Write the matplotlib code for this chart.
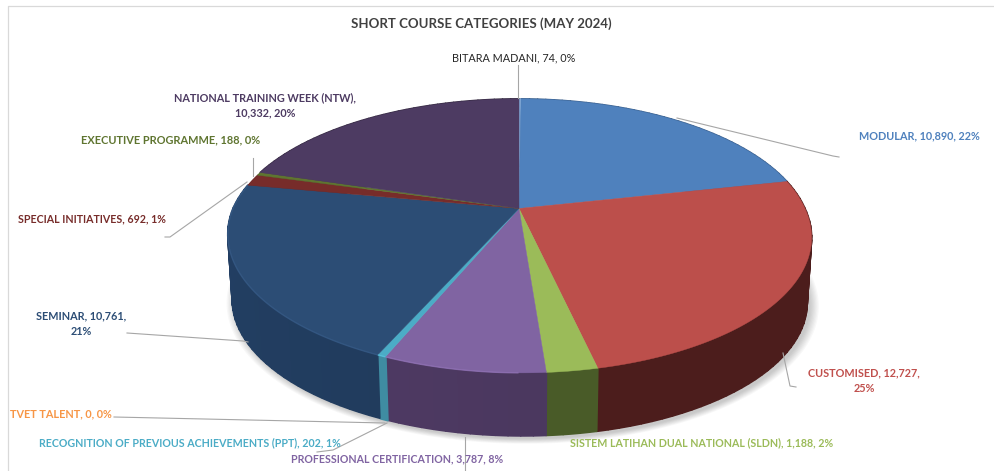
import numpy as np
import matplotlib
matplotlib.use("Agg")
import matplotlib.pyplot as plt
from matplotlib.collections import PolyCollection
from matplotlib.colors import to_rgb

categories = ["BITARA MADANI", "MODULAR", "CUSTOMISED", "SISTEM LATIHAN DUAL NATIONAL (SLDN)",
              "PROFESSIONAL CERTIFICATION", "RECOGNITION OF PREVIOUS ACHIEVEMENTS (PPT)", "TVET TALENT",
              "SEMINAR", "SPECIAL INITIATIVES", "EXECUTIVE PROGRAMME", "NATIONAL TRAINING WEEK (NTW)"]
values = [74, 10890, 12727, 1188, 3787, 202, 0, 10761, 692, 188, 10332]
top_colors = ["#7FA6D3", "#4F81BD", "#BC4F4B", "#9BBB59", "#8064A2", "#4BACC6", "#F79646",
              "#2C4D75", "#772C2A", "#5F7530", "#4D3B62"]
side_colors = ["#5A7FA8", "#3A6190", "#4F1E1D", "#4C5F2A", "#4E3A63", "#3F8DA3", "#B06A30",
               "#213C5E", "#4F1E1D", "#40501F", "#33283F"]
label_colors = ["#262626", "#4F81BD", "#C0504D", "#9BBB59", "#8064A2", "#4BACC6", "#F79646",
                "#2C4D75", "#772C2A", "#5F7530", "#4D3B62"]
title = "SHORT COURSE CATEGORIES (MAY 2024)"

plt.rcParams["font.family"] = ["Lato", "DejaVu Sans"]
fig = plt.figure(figsize=(9.95, 4.71), dpi=100)
ax = fig.add_axes([0, 0, 1, 1])
ax.set_xlim(0, 995)
ax.set_ylim(471, 0)
ax.axis("off")

CX, CY, RX, RY, K = 519.0, 208.5, 286.0, 131.5, 0.2
DY, SC = 65.5, 0.985
SHEAR = 3.5


def project(theta, r=1.0, scale=1.0, dy=0.0):
    u = r * np.sin(theta)
    v = r * np.cos(theta)
    s = scale / (1 + K * v)
    return CX + RX * u * s + SHEAR * np.clip(-v, 0, 1) * r, CY + dy - RY * v * s


frac = np.cumsum([0] + values) / sum(values) * 2 * np.pi

# soft shadow
t = np.linspace(0, 2 * np.pi, 240)
for grow in np.linspace(1.03, 1.0, 8):
    sx, sy = project(t, scale=SC * grow, dy=DY + 3)
    ax.fill(sx + 3, sy, color="#000000", alpha=0.028, lw=0, zorder=1)

# side wall
for a0, a1, c in zip(frac[:-1], frac[1:], side_colors):
    if a1 <= a0:
        continue
    th = np.linspace(a0, a1, max(2, int((a1 - a0) * 30)))
    polys, cols = [], []
    base = np.array(to_rgb(c))
    for p, q in zip(th[:-1], th[1:]):
        sub = np.linspace(p, q, 6)
        xt, yt = project(sub)
        xb, yb = project(sub[::-1], scale=SC, dy=DY)
        polys.append(np.c_[np.r_[xt, xb], np.r_[yt, yb]])
        shade = 0.96 + 0.08 * np.clip(-np.sin(0.5 * (p + q)), 0, 1)
        cols.append(np.clip(base * shade, 0, 1))
    ax.add_collection(PolyCollection(polys, facecolors=cols, edgecolors=cols, linewidths=1.2, zorder=2))

# top face
for a0, a1, c in zip(frac[:-1], frac[1:], top_colors):
    if a1 <= a0:
        continue
    th = np.linspace(a0, a1, max(3, int((a1 - a0) * 80)))
    x, y = project(th)
    ax.fill(np.r_[CX, x], np.r_[CY, y], facecolor=c, edgecolor=c, lw=0.3, zorder=3)
    # soft rim highlight on the near left edge only
    near = (np.sin(th) < 0) & (np.cos(th) < 0.2)
    if near.sum() > 1:
        rim = np.array(to_rgb(c))
        ax.plot(x[near], y[near], color=np.clip(rim * 1.12 + 0.03, 0, 1), lw=1.0, alpha=0.65, zorder=4,
                solid_capstyle="butt")

# leader lines
LEADER = "#A6A6A6"
leaders = [
    ([518, 518], [65, 98]),
    ([677, 833, 839], [118, 156, 157]),
    ([783, 790, 796], [353, 386, 387]),
    ([465, 465], [437, 470]),
    ([387, 333, 317], [423, 450, 452]),
    ([114, 385], [417, 423]),
    ([127, 243, 248], [333, 341, 342]),
    ([165, 170, 247], [237, 237, 182]),
    ([253, 253], [158, 176]),
]
for xs, ys in leaders:
    ax.plot(xs, ys, color=LEADER, lw=0.8, zorder=5)

# data labels
labels = [
    (514, 58, "BITARA MADANI, 74, 0%", 0, "normal", 7.8),
    (919, 136, "MODULAR, 10,890, 22%", 1, "bold", 7.85),
    (864, 380.5, "CUSTOMISED, 12,727,\n25%", 2, "bold", 7.8),
    (701.5, 443, "SISTEM LATIHAN DUAL NATIONAL (SLDN), 1,188, 2%", 3, "bold", 7.7),
    (397, 459, "PROFESSIONAL CERTIFICATION, 3,787, 8%", 4, "bold", 7.7),
    (189.5, 443, "RECOGNITION OF PREVIOUS ACHIEVEMENTS (PPT), 202, 1%", 5, "bold", 7.7),
    (60.5, 414, "TVET TALENT, 0, 0%", 6, "bold", 7.8),
    (81, 323.5, "SEMINAR, 10,761,\n21%", 7, "bold", 7.8),
    (91.5, 219, "SPECIAL INITIATIVES, 692, 1%", 8, "bold", 7.7),
    (171, 140, "EXECUTIVE PROGRAMME, 188, 0%", 9, "bold", 7.9),
    (265, 105, "NATIONAL TRAINING WEEK (NTW),\n10,332, 20%", 10, "bold", 7.8),
]
for x, y, s, idx, w, fs in labels:
    ax.text(x, y, s, color=label_colors[idx], fontsize=fs, fontweight=w, ha="center", va="center",
            linespacing=1.5, zorder=6)

ax.text(481.5, 24, title, color="#404040", fontsize=9.5, fontweight="bold", ha="center", va="center", zorder=6)

# chart frame (left and top)
ax.plot([7.5, 7.5, 995], [471, 5.5, 5.5], color="#D9D9D9", lw=0.9, zorder=0)

fig.savefig("out.png", dpi=100, facecolor="white")
